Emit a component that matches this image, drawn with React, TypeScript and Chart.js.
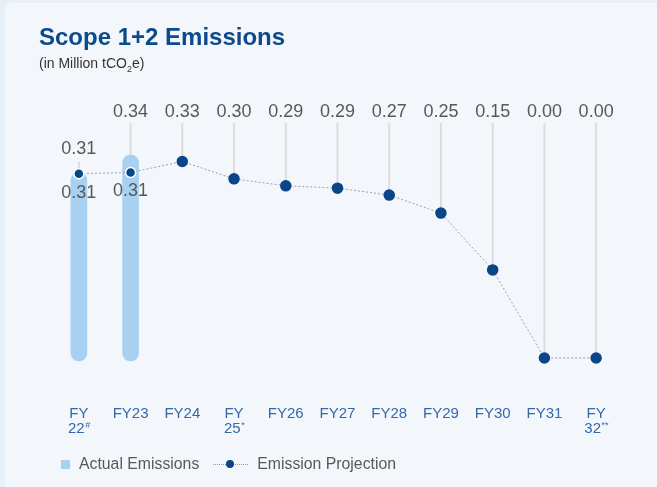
import React, { useEffect, useRef } from "react";
import { Chart, registerables } from "chart.js";

Chart.register(...registerables);

const categories = ["FY22", "FY23", "FY24", "FY25", "FY26", "FY27", "FY28", "FY29", "FY30", "FY31", "FY32"];
const categoryNotes = ["#", "", "", "*", "", "", "", "", "", "", "**"];
const actualEmissions = [0.32, 0.35, null, null, null, null, null, null, null, null, null];
const projection = [0.318, 0.32, 0.339, 0.309, 0.297, 0.293, 0.281, 0.25, 0.152, 0.0, 0.0];
const topLabels = ["0.31", "0.34", "0.33", "0.30", "0.29", "0.29", "0.27", "0.25", "0.15", "0.00", "0.00"];
const barLabels = ["0.31", "0.31", null, null, null, null, null, null, null, null, null];

const FONT = '"Liberation Sans", Arial, Helvetica, sans-serif';
const BAR_COLOR = "#a8d1f1";
const POINT_COLOR = "#0a4588";
const LABEL_GRAY = "#585858";
const AXIS_BLUE = "#3369a6";

const labelPlugin = {
  id: "infoLabels",
  beforeDatasetsDraw(chart: any) {
    const ctx = chart.ctx;
    const x = chart.scales.x;
    const y = chart.scales.y;
    ctx.save();
    ctx.strokeStyle = "#dcdcdc";
    ctx.lineWidth = 2;
    categories.forEach((_, i) => {
      const px = x.getPixelForValue(i);
      const py = y.getPixelForValue(projection[i]);
      const top = i === 0 ? py - 12 : 123;
      ctx.beginPath();
      ctx.moveTo(px, top);
      ctx.lineTo(px, py);
      ctx.stroke();
    });
    ctx.restore();
  },
  afterDatasetsDraw(chart: any) {
    const ctx = chart.ctx;
    const x = chart.scales.x;
    const y = chart.scales.y;
    ctx.save();
    ctx.textAlign = "center";
    ctx.textBaseline = "alphabetic";
    ctx.fillStyle = LABEL_GRAY;
    ctx.font = `18px ${FONT}`;
    categories.forEach((_, i) => {
      const px = x.getPixelForValue(i);
      const py = y.getPixelForValue(projection[i]);
      const base = i === 0 ? py - 20 : 117;
      ctx.fillText(topLabels[i], px, base);
      const bl = barLabels[i];
      if (bl) ctx.fillText(bl, px, py + 24);
    });
    // x axis labels
    ctx.fillStyle = AXIS_BLUE;
    categories.forEach((c, i) => {
      const px = x.getPixelForValue(i);
      const note = categoryNotes[i];
      ctx.font = `15px ${FONT}`;
      if (!note) {
        ctx.textAlign = "center";
        ctx.fillText(c, px, 418);
      } else {
        ctx.textAlign = "center";
        ctx.fillText(c.slice(0, 2), px, 418);
        const main = c.slice(2);
        const mw = ctx.measureText(main).width;
        ctx.font = `9px ${FONT}`;
        const nw = ctx.measureText(note).width;
        const start = px - (mw + nw) / 2;
        ctx.textAlign = "left";
        ctx.fillText(note, start + mw + 0.5, 428);
        ctx.font = `15px ${FONT}`;
        ctx.fillText(main, start, 433);
      }
    });
    ctx.restore();
  },
};

function App() {
  const ref = useRef<HTMLCanvasElement | null>(null);
  useEffect(() => {
    if (!ref.current) return;
    const chart = new Chart(ref.current, {
      type: "bar",
      data: {
        labels: categories,
        datasets: [
          {
            type: "line",
            label: "Emission Projection",
            data: projection,
            borderColor: "#a0a0a0",
            borderWidth: 1,
            borderDash: [2, 2],
            pointRadius: 5,
            pointBackgroundColor: POINT_COLOR,
            pointBorderColor: projection.map((_, i) => (actualEmissions[i] != null ? "#ffffff" : POINT_COLOR)),
            pointBorderWidth: 1.5,
            order: 0,
          } as any,
          {
            type: "bar",
            label: "Actual Emissions",
            data: actualEmissions,
            backgroundColor: BAR_COLOR,
            barThickness: 16,
            borderRadius: 8,
            borderSkipped: false,
            base: -0.005,
            order: 1,
          } as any,
        ],
      },
      options: {
        responsive: false,
        maintainAspectRatio: false,
        animation: false,
        devicePixelRatio: 1,
        layout: { padding: { left: 53, right: 35, top: 100, bottom: 87 } },
        scales: {
          x: { display: false, offset: true, grid: { display: false } },
          y: { display: false, min: -0.0724, max: 0.445 },
        },
        plugins: {
          legend: { display: false },
          tooltip: { enabled: false },
        },
      },
      plugins: [labelPlugin],
    });
    return () => chart.destroy();
  }, []);

  return (
    <div
      style={{
        position: "fixed",
        left: 0,
        top: 0,
        width: 657,
        height: 487,
        background: "#e7eff9",
        overflow: "hidden",
        fontFamily: FONT,
      }}
    >
      <div
        style={{
          position: "absolute",
          left: 5,
          top: 3,
          right: 0,
          bottom: 0,
          background: "#f3f7fc",
          borderTopLeftRadius: 8,
        }}
      />
      <canvas ref={ref} width={657} height={487} style={{ position: "absolute", left: 0, top: 0, width: 657, height: 487 }} />
      <div
        style={{
          position: "absolute",
          left: 39,
          top: 25,
          fontSize: 24,
          lineHeight: "24px",
          fontWeight: 700,
          color: "#0b4a8b",
          whiteSpace: "nowrap",
        }}
      >
        Scope 1+2 Emissions
      </div>
      <div
        style={{
          position: "absolute",
          left: 39,
          top: 56,
          fontSize: 14,
          lineHeight: "14px",
          color: "#333333",
          whiteSpace: "nowrap",
        }}
      >
        (in Million tCO
        <span style={{ fontSize: 9, position: "relative", top: 4 }}>2</span>e)
      </div>
      <div
        style={{
          position: "absolute",
          left: 61,
          top: 454,
          height: 20,
          display: "flex",
          alignItems: "center",
          fontSize: 15.8,
          color: LABEL_GRAY,
          whiteSpace: "nowrap",
        }}
      >
        <span style={{ display: "inline-block", width: 9, height: 9, background: BAR_COLOR, marginRight: 9 }} />
        <span>Actual Emissions</span>
        <span style={{ position: "relative", display: "inline-block", width: 35, height: 10, marginLeft: 14, marginRight: 9 }}>
          <span
            style={{
              position: "absolute",
              left: 0,
              right: 0,
              top: 4.5,
              borderTop: "1px dotted #9a9a9a",
            }}
          />
          <span
            style={{
              position: "absolute",
              left: 13,
              top: 1,
              width: 8,
              height: 8,
              borderRadius: 4,
              background: POINT_COLOR,
            }}
          />
        </span>
        <span>Emission Projection</span>
      </div>
    </div>
  );
}

export default App;
